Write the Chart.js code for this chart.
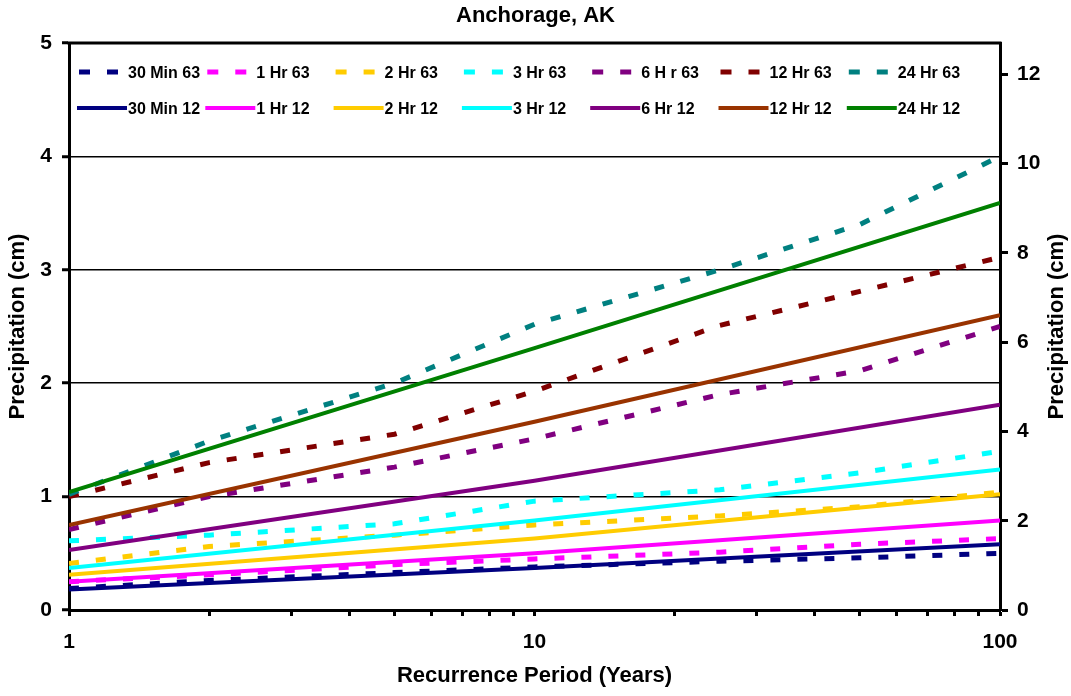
<!DOCTYPE html>
<html>
<head>
<meta charset="utf-8">
<title>Anchorage, AK</title>
<script src="https://cdn.jsdelivr.net/npm/chart.js@4/dist/chart.umd.min.js"></script>
<style>
  html, body { margin: 0; padding: 0; background: #ffffff; }
  #wrap { width: 1071px; height: 696px; }
</style>
</head>
<body>
<div id="wrap"><canvas id="chart" width="1071" height="696"></canvas></div>
<script>
// Recurrence periods (years)
const periods63 = [1, 2, 5, 10, 25, 50, 100];
const periods12 = [1, 10, 100];

// Precipitation depths (cm), "63" series
const min30_63 = [0.19, 0.26, 0.33, 0.38, 0.43, 0.46, 0.50];
const hr1_63   = [0.25, 0.31, 0.40, 0.45, 0.51, 0.58, 0.63];
const hr2_63   = [0.41, 0.56, 0.66, 0.75, 0.83, 0.91, 1.04];
const hr3_63   = [0.61, 0.66, 0.76, 0.96, 1.06, 1.21, 1.40];
const hr6_63   = [0.71, 1.00, 1.26, 1.51, 1.90, 2.11, 2.50];
const hr12_63  = [1.00, 1.30, 1.55, 1.93, 2.51, 2.81, 3.11];
const hr24_63  = [1.02, 1.49, 2.00, 2.52, 3.00, 3.40, 4.00];

// Precipitation depths (cm), "12" series
const min30_12 = [0.18, 0.37, 0.58];
const hr1_12   = [0.25, 0.50, 0.79];
const hr2_12   = [0.31, 0.63, 1.02];
const hr3_12   = [0.37, 0.79, 1.24];
const hr6_12   = [0.53, 1.14, 1.81];
const hr12_12  = [0.75, 1.66, 2.60];
const hr24_12  = [1.04, 2.31, 3.59];

const labels63 = ['30 Min 63', '1 Hr 63', '2 Hr 63', '3 Hr 63', '6 H r 63', '12 Hr 63', '24 Hr 63'];
const labels12 = ['30 Min 12', '1 Hr 12', '2 Hr 12', '3 Hr 12', '6 Hr 12', '12 Hr 12', '24 Hr 12'];
const colors63 = ['#000080', '#FF00FF', '#FFCC00', '#00FFFF', '#800080', '#800000', '#008080'];
const colors12 = ['#000080', '#FF00FF', '#FFCC00', '#00FFFF', '#800080', '#993300', '#008000'];

// Axis ticks
const xTickValues = [1, 2, 3, 4, 5, 6, 7, 8, 9, 10, 20, 30, 40, 50, 60, 70, 80, 90, 100];
const xTickLabels = [1, 10, 100];
const leftTicks = [0, 1, 2, 3, 4, 5];
const rightTicks = [0, 2, 4, 6, 8, 10, 12];
const leftMax = 5;
const rightMax = 12.7;

const FONT = "'Liberation Sans', Arial, Helvetica, sans-serif";
Chart.defaults.font.family = FONT;
Chart.defaults.color = '#000';

const values63 = [min30_63, hr1_63, hr2_63, hr3_63, hr6_63, hr12_63, hr24_63];
const values12 = [min30_12, hr1_12, hr2_12, hr3_12, hr6_12, hr12_12, hr24_12];

const datasets = [];
values63.forEach((vals, i) => datasets.push({
  label: labels63[i],
  data: periods63.map((p, j) => ({ x: p, y: vals[j] })),
  borderColor: colors63[i],
  backgroundColor: colors63[i],
  borderWidth: 5,
  borderDash: [10, 17],
  borderCapStyle: 'butt',
  pointRadius: 0,
  tension: 0,
  fill: false,
  yAxisID: 'y'
}));
values12.forEach((vals, i) => datasets.push({
  label: labels12[i],
  data: periods12.map((p, j) => ({ x: p, y: vals[j] })),
  borderColor: colors12[i],
  backgroundColor: colors12[i],
  borderWidth: 4,
  pointRadius: 0,
  tension: 0,
  fill: false,
  yAxisID: 'y'
}));
// later series are painted over earlier ones
datasets.forEach((d, i) => { d.order = datasets.length - i; });

// Top frame edge, right-hand axis title and the in-plot legend
const framePlugin = {
  id: 'frameAndLegend',
  afterDraw(chart) {
    const { ctx, chartArea: a } = chart;
    ctx.save();

    ctx.strokeStyle = '#000';
    ctx.lineWidth = 3;
    ctx.beginPath();
    ctx.moveTo(a.left - 1.5, a.top);
    ctx.lineTo(a.right + 1.5, a.top);
    ctx.stroke();

    // right axis title, reading bottom to top
    ctx.save();
    ctx.translate(chart.scales.y2.right - 14, (a.top + a.bottom) / 2);
    ctx.rotate(-Math.PI / 2);
    ctx.fillStyle = '#000';
    ctx.font = 'bold 22px ' + FONT;
    ctx.textAlign = 'center';
    ctx.textBaseline = 'middle';
    ctx.fillText('Precipitation (cm)', 0, 0);
    ctx.restore();

    // legend: dashed series in the first row, solid series in the second
    const step = 128.3;
    const x0 = a.left + 8;
    const rows = [a.top + 29, a.top + 65];
    ctx.font = 'bold 16px ' + FONT;
    ctx.textAlign = 'left';
    ctx.textBaseline = 'middle';
    chart.data.datasets.forEach((d, i) => {
      const dashed = Array.isArray(d.borderDash) && d.borderDash.length > 0;
      const col = dashed ? i : i - labels63.length;
      const cx = x0 + col * step;
      const cy = rows[dashed ? 0 : 1];
      ctx.strokeStyle = d.borderColor;
      ctx.beginPath();
      if (dashed) {
        ctx.lineWidth = 5;
        ctx.setLineDash([11, 17]);
        ctx.moveTo(cx + 2, cy);
        ctx.lineTo(cx + 41, cy);
      } else {
        ctx.lineWidth = 4;
        ctx.setLineDash([]);
        ctx.moveTo(cx, cy);
        ctx.lineTo(cx + 50, cy);
      }
      ctx.stroke();
      ctx.setLineDash([]);
      ctx.fillStyle = '#000';
      ctx.fillText(d.label, cx + 51, cy + 2);
    });
    ctx.restore();
  }
};

new Chart(document.getElementById('chart'), {
  type: 'line',
  data: { datasets },
  options: {
    responsive: false,
    animation: false,
    devicePixelRatio: 1,
    layout: { padding: 0 },
    plugins: {
      legend: { display: false },
      tooltip: { enabled: false },
      title: {
        display: true,
        text: 'Anchorage, AK',
        color: '#000',
        font: { size: 22, weight: 'bold' },
        padding: { top: 3, bottom: 13.6 }
      }
    },
    scales: {
      x: {
        type: 'logarithmic',
        position: 'bottom',
        min: 1,
        max: 100,
        afterBuildTicks: s => { s.ticks = xTickValues.map(v => ({ value: v })); },
        afterFit: s => { s.height = 86; },
        ticks: {
          autoSkip: false,
          maxRotation: 0,
          minRotation: 0,
          padding: 14,
          color: '#000',
          font: { size: 21, weight: 'bold' },
          callback: v => (xTickLabels.includes(v) ? String(v) : '')
        },
        grid: { drawOnChartArea: false, drawTicks: true, tickLength: 6, tickWidth: 3, tickColor: '#000' },
        border: { display: true, color: '#000', width: 3 },
        title: {
          display: true,
          text: 'Recurrence Period (Years)',
          color: '#000',
          font: { size: 22, weight: 'bold' },
          padding: { top: 0, bottom: 7 }
        }
      },
      y: {
        type: 'linear',
        position: 'left',
        min: 0,
        max: leftMax,
        afterBuildTicks: s => { s.ticks = leftTicks.map(v => ({ value: v })); },
        afterFit: s => { s.width = 69; },
        ticks: { padding: 10, color: '#000', font: { size: 21, weight: 'bold' } },
        grid: { color: '#000', lineWidth: 1.5, tickLength: 7, tickWidth: 3, tickColor: '#000' },
        border: { display: true, color: '#000', width: 3 },
        title: {
          display: true,
          text: 'Precipitation (cm)',
          color: '#000',
          font: { size: 22, weight: 'bold' },
          padding: { top: 5, bottom: 0 }
        }
      },
      y2: {
        type: 'linear',
        position: 'right',
        min: 0,
        max: rightMax,
        afterBuildTicks: s => { s.ticks = rightTicks.map(v => ({ value: v })); },
        afterFit: s => { s.width = 71; },
        ticks: { padding: 9, color: '#000', font: { size: 21, weight: 'bold' } },
        grid: { drawOnChartArea: false, tickLength: 8, tickWidth: 3, tickColor: '#000' },
        border: { display: true, color: '#000', width: 3 }
      }
    }
  },
  plugins: [framePlugin]
});
</script>
</body>
</html>
